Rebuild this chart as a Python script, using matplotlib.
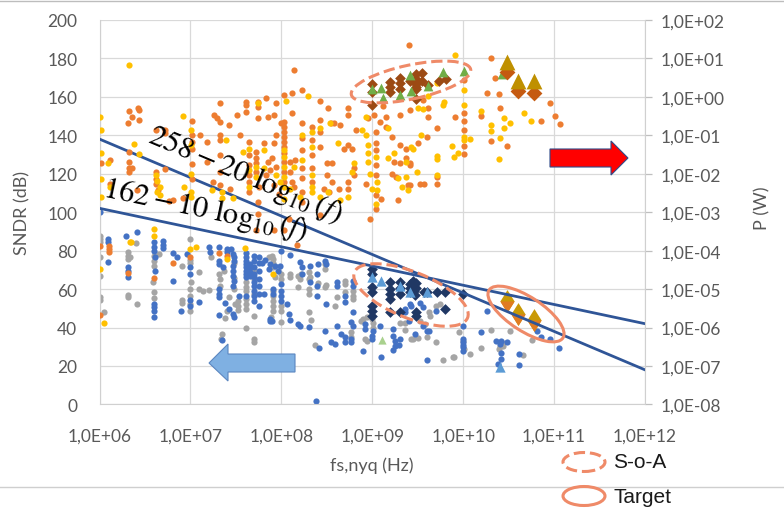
import numpy as np
import matplotlib.pyplot as plt
from matplotlib.patches import Ellipse, Polygon
from matplotlib.lines import Line2D
from matplotlib.path import Path
from matplotlib.ticker import NullLocator

plt.rcParams['font.family'] = ['Lato', 'DejaVu Sans']
plt.rcParams['mathtext.fontset'] = 'stix'

# Datos: (log10 fs [Hz], log10 P [W]) para la potencia, (log10 fs [Hz], SNDR [dB]) para el SNDR
orange_pw = np.array([
    (6.32, -0.37), (6.43, -0.35), (6.43, -0.61), (6.31, -0.68), (6.36, -0.52), (6.42, -0.30), (6.62, -0.87),
    (6.72, -0.87), (6.72, -0.95), (6.32, -1.43), (6.02, -1.73), (6.11, -1.65), (6.32, -1.70), (6.32, -1.85),
    (6.36, -1.85), (6.32, -1.95), (6.11, -2.26), (6.41, -2.43), (6.62, -1.95), (6.62, -2.13), (6.62, -2.26),
    (6.64, -2.43), (6.72, -1.87), (6.92, -2.63), (7.02, -0.63), (7.02, -1.00), (7.02, -1.17), (7.02, -1.35),
    (7.02, -1.74), (7.02, -2.13), (7.11, -1.00), (7.18, -1.17), (7.26, -0.48), (7.29, -0.56), (7.33, -0.17),
    (7.33, -0.65), (7.33, -1.00), (7.33, -1.13), (7.33, -1.52), (7.33, -1.95), (7.33, -2.30), (7.42, -0.74),
    (7.51, -0.48), (7.55, -1.00), (7.61, -0.13), (7.61, -0.22), (7.61, -0.39), (7.64, -1.17), (7.64, -1.52),
    (7.64, -1.78), (7.64, -2.04), (7.64, -2.21), (7.64, -2.47), (7.44, -2.39), (7.25, -2.21), (6.76, -2.72),
    (6.81, -2.68), (7.18, -1.70),
    (8.14, 0.71), (8.23, 0.17), (8.03, 0.04), (8.12, 0.09), (7.74, -0.13), (7.74, -0.26), (7.83, -0.04),
    (7.94, -0.17), (8.43, -0.10), (8.51, -0.30), (8.73, -0.30), (8.73, -0.48), (8.12, -0.43), (7.74, -0.56),
    (7.85, -0.52), (7.92, -0.48),
    (8.00, -0.69), (8.03, -0.65), (8.03, -0.78), (8.03, -0.91), (8.03, -1.04), (8.03, -1.17), (8.03, -1.30),
    (8.03, -1.47), (8.03, -1.69), (8.03, -1.95), (8.03, -2.21),
    (8.23, -0.67), (8.23, -1.08), (8.23, -1.39), (8.23, -1.86), (8.23, -2.12), (8.23, -2.47), (8.23, -2.73),
    (8.34, -0.78), (8.34, -1.13), (8.34, -1.52), (8.34, -1.86), (8.34, -2.21),
    (8.43, -0.61), (8.43, -0.91), (8.43, -1.30), (8.55, -0.69), (8.58, -0.69), (8.64, -0.74), (8.73, -1.26),
    (8.69, -1.35), (8.56, -2.21), (8.56, -1.73), (8.78, -1.35), (8.80, -1.86), (8.80, -2.04), (8.82, -0.87),
    (8.95, -0.56),
    (9.02, -0.48), (9.04, -0.91), (9.04, -1.21), (9.04, -1.39), (9.04, -1.78), (9.04, -2.04), (9.04, -2.56),
    (9.04, -2.91),
    (8.98, -3.17), (9.08, -0.65), (9.15, -0.52), (9.15, -0.78), (9.12, -0.25), (9.30, -0.47), (9.22, -1.04),
    (9.30, -1.26), (9.24, -1.69), (9.30, -1.73), (9.22, -2.00), (9.26, -2.08), (9.37, -1.35), (9.37, -1.60),
    (9.41, -1.78), (9.41, -2.30), (9.28, -2.69), (9.40, 1.36),
    (7.72, -1.43), (7.72, -1.60), (7.72, -1.73), (7.72, -1.95), (7.81, -1.21), (7.92, -1.21), (7.94, -1.00),
    (7.85, -1.69), (7.90, -1.60), (7.94, -1.82), (7.88, -1.91), (7.83, -2.04), (7.92, -2.30), (7.97, -2.52),
    (8.10, -1.69), (8.15, -1.65), (8.10, -1.95), (8.12, -2.21), (8.14, -2.34), (7.74, -3.04), (7.74, -2.74),
    (7.75, -2.34), (7.72, -3.47), (7.92, -3.47), (8.03, -3.47), (8.17, -3.86), (8.08, -3.17), (8.43, -3.08),
    (8.47, -2.39), (8.63, -2.39), (8.73, -2.21), (8.73, -2.39), (8.93, -2.26), (9.10, -2.65), (8.50, -1.73),
    (8.50, -2.04), (8.52, -2.47),
    (10.31, 1.00), (10.35, 0.48), (10.26, 0.10), (10.39, 0.07), (10.96, -0.17), (11.01, -0.50), (11.06, -0.71),
    (10.86, -0.62), (10.40, -0.30), (10.20, -0.50), (10.31, -1.14), (10.48, -1.27),
    (10.01, 0.45), (10.01, -0.41), (10.01, -0.62), (10.01, -0.87), (10.01, -1.28), (10.01, -1.49),
    (9.91, -0.52), (9.71, -0.82), (9.71, -2.08), (9.71, -2.26), (9.61, -0.30), (9.61, -0.52), (9.41, -0.33),
    (9.56, -0.09), (9.60, -1.04), (9.50, -1.21), (9.41, -1.72), (9.53, -2.26), (9.57, -2.26), (9.39, -2.30),
    (6.00, -3.87), (6.10, -3.87), (6.10, -3.96), (6.10, -4.04), (6.31, -4.59), (6.00, -5.67), (6.60, -4.71),
    (6.81, -4.33), (7.00, -4.16), (7.31, -4.07), (7.40, -4.13),
])

yellow_pw = np.array([
    (6.32, 0.83), (6.02, -0.87), (6.00, -0.53), (6.38, -1.23), (6.43, -1.48), (6.02, -1.45), (6.09, -1.73),
    (6.11, -2.34), (6.02, -2.13), (6.02, -2.60), (6.63, -2.20), (6.67, -2.34), (6.63, -2.47), (6.67, -2.56),
    (6.62, -2.04), (6.93, -2.34), (6.92, -0.50), (7.01, -0.87), (7.01, -1.26), (7.01, -2.00), (7.01, -2.47),
    (7.01, -2.60), (7.35, -2.47), (7.35, -2.63), (7.39, -1.13), (7.58, -1.43), (7.64, -1.35), (7.64, -1.91),
    (7.64, -2.34), (7.47, -2.63), (7.24, -2.43),
    (8.29, 0.03), (7.74, -0.17), (8.05, -0.10), (8.03, -1.39), (8.03, -1.56), (8.03, -1.82), (8.03, -2.08),
    (8.03, -2.34), (8.03, -2.65), (8.23, -1.00), (8.23, -1.65), (8.21, -2.60), (8.34, -0.91), (8.34, -1.30),
    (8.34, -2.04), (8.34, -2.34), (8.34, -2.47), (8.43, -0.82), (8.43, -2.60), (8.53, -0.69), (8.62, -1.21),
    (8.51, -2.47), (8.65, -2.69), (8.80, -1.73), (8.89, -0.87), (8.93, -0.52), (8.93, -1.00), (8.95, -1.26),
    (8.95, -1.47), (8.95, -1.69), (8.98, -2.00), (9.00, -2.39), (9.04, -1.56), (9.05, -2.21), (9.05, -2.43),
    (9.04, -2.78), (9.17, -0.82), (9.24, -1.47), (9.17, -1.60), (9.28, -2.12), (9.37, -1.69), (9.37, -2.08),
    (9.33, -2.34), (7.72, -1.82), (7.72, -2.08), (7.81, -1.39), (7.81, -1.86), (7.94, -2.04), (7.99, -2.21),
    (8.14, -1.82), (8.10, -2.39), (8.73, -2.60), (8.78, -1.95),
    (9.91, 1.09), (10.75, -0.62), (10.67, -0.41), (10.20, -0.36), (10.31, -0.74), (10.31, -0.88), (10.45, -0.54),
    (10.45, -0.82), (10.51, -0.69), (10.40, -1.06), (10.39, -1.63), (10.01, 0.19), (10.01, -0.20), (10.01, -1.04),
    (10.01, -1.11), (9.90, -1.56), (9.94, -1.45), (9.88, -1.28), (10.08, -1.09), (9.71, -1.54), (9.71, -1.63),
    (9.71, -2.04), (9.50, -0.30), (9.56, -0.32), (9.79, -0.13), (9.61, 0.02), (9.54, -1.00), (9.43, -1.30),
    (9.45, -1.36), (9.49, -1.95), (9.39, -2.43), (9.71, 0.36), (9.78, -0.20),
    (6.00, -4.47), (6.05, -5.89), (6.33, -3.78), (6.35, -3.78), (6.60, -3.43), (6.60, -3.61), (7.00, -3.96),
    (7.06, -3.91), (7.40, -4.21), (7.60, -3.93), (7.91, -4.62),
])

blue_sndr = np.array([
    (6.01, 100.0), (6.09, 86.0), (6.09, 84.3), (6.09, 74.0), (6.29, 87.8), (6.31, 71.4), (6.31, 69.6),
    (6.31, 66.1), (6.41, 89.5), (6.60, 84.3), (6.60, 81.7), (6.60, 80.0), (6.61, 76.6), (6.61, 69.6),
    (6.60, 52.3), (6.60, 50.9), (6.60, 48.5), (6.60, 45.7), (6.70, 85.2), (6.70, 83.1), (6.70, 81.4),
    (6.81, 78.6), (6.85, 76.6), (6.81, 64.4), (6.90, 48.5), (6.96, 78.3), (7.00, 71.4), (7.00, 67.9),
    (7.00, 54.3), (7.00, 51.4), (7.09, 53.2), (7.20, 81.7), (7.22, 79.2), (7.31, 81.7), (7.31, 74.8),
    (7.31, 73.1), (7.31, 60.1), (7.31, 57.5), (7.31, 55.7), (7.31, 46.6), (7.35, 33.5), (7.40, 80.9),
    (7.40, 79.2), (7.36, 71.4), (7.38, 52.6), (7.42, 49.7), (7.45, 80.9),
    (7.47, 78.3), (7.48, 76.6), (7.48, 74.5), (7.47, 72.2), (7.47, 69.6), (7.47, 67.0), (7.48, 64.4),
    (7.47, 61.8), (7.53, 56.6), (7.47, 47.0), (7.48, 45.7),
    (7.61, 78.6), (7.61, 76.6), (7.61, 74.8), (7.61, 73.1), (7.61, 71.4), (7.61, 69.6), (7.61, 67.9),
    (7.61, 66.1), (7.61, 56.6), (7.66, 73.1), (7.66, 71.4), (7.66, 68.8), (7.66, 67.0),
    (7.70, 77.4), (7.70, 74.8), (7.70, 71.7), (7.70, 67.9), (7.70, 66.1), (7.70, 63.5), (7.70, 61.8),
    (7.70, 59.2), (7.70, 56.6), (7.70, 54.0),
    (7.75, 76.6), (7.75, 73.4), (7.75, 69.6), (7.75, 65.3), (7.75, 61.8), (7.75, 57.5), (7.75, 51.4),
    (7.79, 73.4), (7.82, 75.2), (7.81, 57.5), (7.88, 73.0), (7.86, 70.5), (7.93, 72.0), (7.96, 69.6),
    (7.98, 72.0), (7.91, 60.0), (7.91, 57.5), (7.88, 44.5), (7.90, 43.6), (7.87, 43.6),
    (8.00, 80.0), (8.00, 62.7), (8.00, 59.2), (8.00, 56.6), (8.00, 54.0), (8.06, 52.3), (8.08, 47.0),
    (8.10, 43.9), (8.10, 77.5), (8.18, 41.9), (8.20, 41.0), (8.20, 74.0), (8.23, 71.4), (8.23, 67.9),
    (8.31, 72.0), (8.32, 63.5), (8.30, 40.2), (8.40, 73.0), (8.39, 67.9), (8.39, 61.8), (8.39, 56.6),
    (8.41, 29.1), (8.49, 73.0), (8.48, 74.8), (8.48, 38.4), (8.49, 52.3), (8.55, 32.3), (8.38, 1.8),
    (8.61, 63.5), (8.61, 61.8), (8.70, 56.6), (8.70, 53.1), (8.61, 41.0), (8.59, 31.4), (8.66, 36.7),
    (8.70, 35.0), (8.70, 32.4), (8.79, 64.0), (8.79, 61.8), (8.79, 48.0), (8.77, 42.7), (8.79, 41.0),
    (8.77, 34.1), (8.77, 32.4), (8.92, 41.9), (8.92, 39.3), (8.90, 28.0), (9.00, 46.0), (9.01, 38.4),
    (9.00, 35.8), (9.00, 34.0), (9.10, 24.5), (9.08, 41.0), (9.23, 39.3), (9.23, 35.8), (9.25, 33.2),
    (9.25, 30.6), (9.23, 28.3), (9.30, 34.1), (9.29, 31.0), (9.47, 36.7), (9.40, 43.6), (9.36, 49.7),
    (9.36, 48.0), (9.41, 52.3), (9.43, 51.4), (9.52, 52.6), (9.56, 50.5), (9.56, 41.0), (9.60, 38.4),
    (9.62, 38.4), (9.70, 48.8), (9.60, 23.0), (10.00, 41.0), (10.00, 34.1), (10.00, 32.4), (10.00, 31.1),
    (10.00, 29.8), (10.00, 28.0), (10.20, 37.6), (10.26, 48.5), (10.36, 33.2), (10.41, 31.4), (10.42, 33.2),
    (10.48, 32.4), (10.42, 26.6), (10.42, 23.7), (10.38, 21.1), (10.61, 26.3), (10.61, 20.7), (10.81, 38.4),
    (10.86, 35.0), (10.95, 34.1), (11.05, 29.4),
])

gray_sndr = np.array([
    (6.00, 87.8), (6.00, 86.0), (6.00, 84.3), (6.00, 76.6), (6.00, 67.0), (6.00, 55.7), (6.00, 54.3),
    (6.05, 48.0), (6.31, 79.2), (6.31, 77.4), (6.34, 76.9), (6.31, 75.7), (6.31, 57.1), (6.31, 55.7),
    (6.40, 83.8), (6.41, 52.3), (6.60, 77.4), (6.60, 74.8), (6.60, 72.2), (6.59, 63.5), (6.60, 58.4),
    (6.60, 55.4), (6.65, 78.4), (6.91, 72.2), (6.91, 54.3), (6.91, 52.6), (7.00, 86.0), (7.00, 75.2),
    (7.00, 73.4), (7.01, 63.5), (7.00, 60.1), (7.00, 56.6), (7.00, 52.3), (7.00, 48.8), (7.09, 68.8),
    (7.09, 60.0), (7.14, 59.2), (7.20, 59.5), (7.23, 76.6), (7.31, 67.9), (7.33, 65.3), (7.33, 61.8),
    (7.35, 36.7), (7.34, 34.0), (7.37, 69.3), (7.42, 55.7), (7.40, 48.8), (7.38, 45.0), (7.48, 73.4),
    (7.48, 66.0), (7.48, 60.0), (7.52, 53.8), (7.52, 51.2), (7.52, 48.9), (7.49, 52.0), (7.61, 63.5),
    (7.61, 60.9), (7.61, 59.2), (7.61, 54.9), (7.61, 52.3), (7.61, 49.7), (7.61, 39.8), (7.70, 70.0),
    (7.70, 65.0), (7.70, 57.5), (7.70, 46.2), (7.70, 34.0), (7.70, 32.3), (7.86, 76.6), (7.90, 77.4),
    (7.91, 75.7), (7.91, 73.4), (7.91, 71.4), (7.93, 66.5), (7.91, 59.2), (7.91, 56.6), (7.91, 54.0),
    (7.91, 51.4), (7.91, 48.8), (7.89, 45.3), (8.00, 67.9), (8.00, 65.3), (8.00, 51.4), (8.00, 48.8),
    (8.00, 42.7), (8.10, 67.9), (8.10, 66.1), (8.18, 67.0), (8.20, 65.3), (8.18, 61.0), (8.30, 68.8),
    (8.30, 65.3), (8.30, 60.1), (8.30, 57.5), (8.30, 48.0), (8.33, 44.0), (8.37, 30.9), (8.48, 73.1),
    (8.48, 70.5), (8.48, 61.0), (8.22, 68.0), (8.31, 66.5), (8.40, 63.0), (8.49, 62.0),
    (8.61, 55.7), (8.70, 64.4), (8.70, 62.7), (8.70, 58.4), (8.59, 51.4), (8.79, 59.2), (8.79, 56.6),
    (8.79, 54.9), (8.77, 37.6), (8.77, 35.0), (8.88, 43.6), (8.90, 44.5), (8.94, 45.3), (8.92, 34.0),
    (8.94, 32.9), (9.00, 44.5), (9.01, 42.2), (9.01, 39.8), (9.30, 42.2), (9.36, 42.6), (9.36, 38.8),
    (9.43, 34.0), (9.45, 34.0), (9.52, 43.6), (9.58, 41.9), (9.50, 34.5), (9.60, 35.0), (9.70, 32.4),
    (9.62, 48.0), (9.63, 46.2), (9.70, 51.4), (9.75, 52.3), (9.78, 23.2), (9.89, 24.9), (9.90, 24.6),
    (9.95, 37.6), (10.00, 33.2), (10.01, 29.0), (10.07, 26.3), (10.20, 29.1), (10.31, 38.8), (10.41, 30.4),
    (10.44, 30.4), (10.44, 32.0), (10.39, 28.6), (10.51, 38.4), (10.66, 25.9), (10.76, 33.5),
])

# Estado del arte
soa_sndr = np.array([
    (9.00, 70.5), (9.00, 67.9), (9.00, 61.0), (9.00, 58.4), (9.00, 51.4), (9.00, 48.8), (9.00, 46.2),
    (9.19, 63.5), (9.19, 60.1), (9.19, 57.5), (9.19, 54.9), (9.19, 48.0), (9.30, 63.5), (9.30, 60.6),
    (9.30, 57.5), (9.30, 48.0), (9.41, 62.8), (9.41, 60.6), (9.41, 58.4), (9.45, 64.2), (9.45, 61.6),
    (9.46, 59.0), (9.47, 57.0), (9.48, 63.0), (9.48, 60.5), (9.48, 48.0), (9.48, 46.2), (9.57, 58.4),
    (9.60, 58.4), (9.71, 58.4), (9.80, 58.4), (9.80, 49.7), (10.00, 57.5),
])
tri_sndr = np.array([(9.00, 66.2), (9.10, 64.4), (9.30, 61.8), (9.41, 58.4), (9.60, 58.4), (10.41, 19.7)])
green_sndr = np.array([(9.11, 33.7)])

soa_tri_pw = np.array([
    (9.00, 0.21), (9.10, 0.22), (9.12, -0.03), (9.30, 0.06), (9.42, 0.57), (9.43, 0.16), (9.61, 0.29),
    (9.78, 0.64), (10.01, 0.68), (10.43, 0.60),
])
soa_dia_pw = np.array([
    (9.00, 0.33), (9.00, 0.12), (9.00, -0.21), (9.19, 0.38), (9.19, 0.25), (9.19, 0.12), (9.30, 0.48),
    (9.30, 0.36), (9.30, 0.21), (9.48, 0.60), (9.48, 0.47), (9.48, 0.25), (9.48, 0.21), (9.48, -0.05),
    (9.48, 0.33), (9.55, 0.62), (9.55, 0.40), (9.61, 0.31), (9.73, 0.42), (9.81, 0.47), (9.41, 0.40),
])

# Objetivo
target_lf = np.array([10.48, 10.60, 10.78])
target_sndr = np.array([54.0, 47.0, 44.0])
target_tri_pw = np.array([0.90, 0.40, 0.40])
target_dia_pw = np.array([0.64, 0.16, 0.10])

ticks_f = list(range(6, 13))
ticks_p = list(range(-8, 3))


def etiqueta(e):
    return "1,0E%s%02d" % ("+" if e >= 0 else "-", abs(e))


fig = plt.figure(figsize=(7.84, 5.10), dpi=100)
ax = fig.add_axes([0.127, 0.205, 0.6957, 0.754])
ax2 = ax.twinx()

gris = '#595959'
ax.set_xscale('log')
ax.set_xlim(1e6, 1e12)
ax.set_ylim(0, 200)
ax.set_xticks([10.0 ** e for e in ticks_f])
ax.set_xticklabels([etiqueta(e) for e in ticks_f])
ax.xaxis.set_minor_locator(NullLocator())
ax.set_yticks(range(0, 201, 20))
ax.tick_params(axis='both', length=0, labelsize=12.5, colors=gris)
ax.tick_params(axis='x', pad=17)
ax.tick_params(axis='y', pad=16)
ax.grid(True, color='#d9d9d9', lw=0.9)
ax.set_axisbelow(True)
for s in ['top', 'right']:
    ax.spines[s].set_visible(False)
for s in ['left', 'bottom']:
    ax.spines[s].set_color('#d0d0d0')

ax2.set_yscale('log')
ax2.set_ylim(1e-8, 1e2)
ax2.set_yticks([10.0 ** e for e in ticks_p])
ax2.set_yticklabels([etiqueta(e) for e in ticks_p])
ax2.yaxis.set_minor_locator(NullLocator())
ax2.tick_params(axis='y', length=5, width=0.9, color='#bfbfbf', labelsize=12.5, labelcolor=gris, pad=6)
for s in ['top', 'left', 'bottom']:
    ax2.spines[s].set_visible(False)
ax2.spines['right'].set_color('#d0d0d0')

# SNDR
ax.scatter(10 ** gray_sndr[:, 0], gray_sndr[:, 1], s=20, color='#a5a5a5', lw=0, zorder=2)
ax.scatter(10 ** blue_sndr[:, 0], blue_sndr[:, 1], s=20, color='#4472c4', lw=0, zorder=2)
ax.scatter(10 ** soa_sndr[:, 0], soa_sndr[:, 1], s=30, marker='D', color='#203864', lw=0, zorder=3)
ax.scatter(10 ** tri_sndr[:, 0], tri_sndr[:, 1], s=55, marker='^', color='#5b9bd5', lw=0, zorder=3)
ax.scatter(10 ** green_sndr[:, 0], green_sndr[:, 1], s=35, marker='^', color='#a9d18e', lw=0, zorder=3)

rombo = Path([(0, 1.6), (1, 0), (0, -1.6), (-1, 0), (0, 1.6)])
mitad = Path([(-1, 0), (1, 0), (0, -1.6), (-1, 0)])
ax.scatter(10 ** target_lf, target_sndr, s=270, marker=rombo, color='#c99a06', lw=0, zorder=4)
ax.scatter(10 ** target_lf, target_sndr, s=270, marker=mitad, color='#e07b22', lw=0, zorder=4)

# Rectas de referencia
f_lin = np.array([1e6, 1e12])
ax.plot(f_lin, 258 - 20 * np.log10(f_lin), color='#2f5597', lw=2, zorder=5)
ax.plot(f_lin, 162 - 10 * np.log10(f_lin), color='#2f5597', lw=2, zorder=5)

# Potencia
ax2.scatter(10 ** orange_pw[:, 0], 10 ** orange_pw[:, 1], s=20, color='#ed7d31', lw=0, zorder=2)
ax2.scatter(10 ** yellow_pw[:, 0], 10 ** yellow_pw[:, 1], s=20, color='#ffc000', lw=0, zorder=2)
ax2.scatter(10 ** soa_dia_pw[:, 0], 10 ** soa_dia_pw[:, 1], s=30, marker='D', color='#9c4a14', lw=0, zorder=3)
ax2.scatter(10 ** soa_tri_pw[:, 0], 10 ** soa_tri_pw[:, 1], s=50, marker='^', color='#70ad47', lw=0, zorder=3)
ax2.scatter(10 ** target_lf, 10 ** target_dia_pw, s=65, marker='D', color='#c55a11', lw=0, zorder=4)
ax2.scatter(10 ** target_lf, 10 ** target_tri_pw, s=130, marker='^', color='#bf9000', lw=0, zorder=4)

ax2.text(10 ** 7.60, 10 ** (119.5 / 20 - 8), r'$258-20\ \log_{10}(f)$', fontsize=22,
         rotation=-22.9, rotation_mode='anchor', ha='center', va='center', color='#000000', zorder=6)
ax2.text(10 ** 7.16, 10 ** (101.5 / 20 - 8), r'$162-10\ \log_{10}(f)$', fontsize=22,
         rotation=-11.9, rotation_mode='anchor', ha='center', va='center', color='#000000', zorder=6)

fig.text(22 / 784, 1 - 213 / 510, 'SNDR (dB)', rotation=90, ha='center', va='center', fontsize=13, color=gris)
fig.text(762 / 784, 1 - 208 / 510, 'P (W)', rotation=90, ha='center', va='center', fontsize=13, color=gris)
fig.text(372 / 784, 1 - 466 / 510, 'fs,nyq (Hz)', ha='center', va='center', fontsize=13, color=gris)

# Flechas y elipses (en pulgadas sobre la figura)
pulg = fig.dpi_scale_trans


def px(x, y):
    return (x / 100.0, (510 - y) / 100.0)


flecha_roja = [px(550, 150), px(611, 150), px(611, 142), px(628, 159), px(611, 176), px(611, 168), px(550, 168)]
fig.add_artist(Polygon(flecha_roja, closed=True, transform=pulg, facecolor='#ff0000', edgecolor='#2f4a8a', lw=0.8))
flecha_azul = [px(295, 355), px(228, 355), px(228, 345), px(209, 364), px(228, 382), px(228, 373), px(295, 373)]
fig.add_artist(Polygon(flecha_azul, closed=True, transform=pulg, facecolor='#7fb0e2', edgecolor='#5b86c0', lw=0.8))

c_elipse = '#ef8a68'
elipses = [((411, 83), 122, 34, 12, '--'), ((411, 296), 122, 46, -22, '--'), ((526, 315), 88, 34, -33, '-'),
           ((584, 463), 42, 19, 0, '--'), ((584, 497), 42, 19, 0, '-')]
for (cx, cy), w, h, ang, ls in elipses:
    fig.add_artist(Ellipse(px(cx, cy), w / 100.0, h / 100.0, angle=ang, transform=pulg, fill=False,
                           edgecolor=c_elipse, lw=2.2, ls=ls, zorder=7))

fig.text(613 / 784, 1 - 463 / 510, 'S-o-A', ha='left', va='center', fontsize=15, family='Liberation Sans', color='#1a1a1a')
fig.text(613 / 784, 1 - 498 / 510, 'Target', ha='left', va='center', fontsize=15, family='Liberation Sans', color='#1a1a1a')

fig.add_artist(Line2D([0, 1], [1 - 488 / 510, 1 - 488 / 510], transform=fig.transFigure, color='#cfcfcf', lw=1, zorder=0))
fig.add_artist(Line2D([0, 1], [1 - 1.5 / 510, 1 - 1.5 / 510], transform=fig.transFigure, color='#bdbdbd', lw=1, zorder=0))

fig.savefig('out.png', dpi=100, facecolor='white')
